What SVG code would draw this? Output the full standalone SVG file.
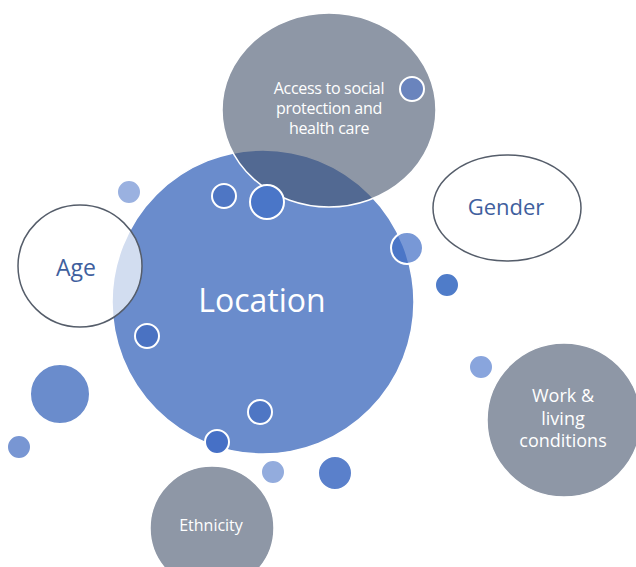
<svg xmlns="http://www.w3.org/2000/svg" width="636" height="567" viewBox="0 0 636 567">
<style>
.lbl{font-family:"Open Sans","Noto Sans","Liberation Sans",sans-serif;text-anchor:middle}
.w{fill:#ffffff}
.b{fill:#3f5f9e}
.dot{stroke:#ffffff;stroke-width:2}
.gray{fill:#8e97a6;stroke:#ffffff;stroke-width:1.5}
</style>
<rect width="636" height="567" fill="#ffffff"/>
<g id="location">
<ellipse cx="263" cy="302" rx="151" ry="152" fill="#6a8ccc" stroke="#ffffff" stroke-width="1.5"/>
<text class="lbl w" x="262" y="312" font-size="32">Location</text>
</g>
<g id="access">
<ellipse cx="329" cy="110" rx="107" ry="97" fill="#43526b" fill-opacity="0.6" stroke="#ffffff" stroke-width="1.5"/>
<text class="lbl w" font-size="16" letter-spacing="-0.3"><tspan x="329" y="94">Access to social</tspan><tspan x="329" y="114">protection and</tspan><tspan x="329" y="134">health care</tspan></text>
</g>
<g id="age">
<ellipse cx="80" cy="266" rx="62" ry="61" fill="#ffffff" fill-opacity="0.7" stroke="#555d6a" stroke-width="1.5"/>
<text class="lbl b" x="76" y="276" font-size="23">Age</text>
</g>
<g id="gender">
<ellipse cx="507" cy="208" rx="74" ry="53" fill="#ffffff" stroke="#555d6a" stroke-width="1.5"/>
<text class="lbl b" x="506" y="215" font-size="22">Gender</text>
</g>
<g id="work">
<ellipse cx="564" cy="420" rx="77" ry="77" class="gray"/>
<text class="lbl w" font-size="18"><tspan x="563" y="402">Work &amp;</tspan><tspan x="563" y="425">living</tspan><tspan x="563" y="447">conditions</tspan></text>
</g>
<g id="ethnicity">
<ellipse cx="212" cy="528" rx="62" ry="62" class="gray"/>
<text class="lbl w" x="211" y="531" font-size="16">Ethnicity</text>
</g>
<g id="bubbles">
<circle class="dot" cx="129" cy="192" r="12" fill="#9ab1e0"/>
<circle class="dot" cx="224" cy="196" r="12" fill="#4e76c4"/>
<circle class="dot" cx="267" cy="202" r="17" fill="#4a76c8"/>
<circle class="dot" cx="412" cy="89" r="12" fill="#6a84bd"/>
<circle class="dot" cx="407" cy="248" r="16" fill="#3f6cc4" fill-opacity="0.7"/>
<circle class="dot" cx="447" cy="285" r="12" fill="#4f7cc9"/>
<circle class="dot" cx="147" cy="336" r="12" fill="#4a72c2"/>
<circle class="dot" cx="60" cy="394" r="30" fill="#6a8ccc"/>
<circle class="dot" cx="19" cy="447" r="12" fill="#7896d3"/>
<circle class="dot" cx="260" cy="412" r="12" fill="#4e76c4"/>
<circle class="dot" cx="217" cy="442" r="12" fill="#4670c6"/>
<circle class="dot" cx="273" cy="472" r="12" fill="#93acdd"/>
<circle class="dot" cx="335" cy="473" r="17" fill="#5a80cb"/>
<circle class="dot" cx="481" cy="367" r="12" fill="#89a5dd"/>
</g>
</svg>
